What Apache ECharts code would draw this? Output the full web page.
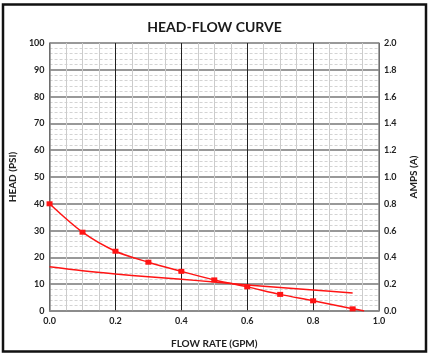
<!DOCTYPE html>
<html>
<head>
<meta charset="utf-8">
<script src="https://cdn.jsdelivr.net/npm/echarts@6/dist/echarts.min.js"></script>
<style>
html, body { margin: 0; padding: 0; background: #fff; }
#container { width: 429px; height: 354px; }
</style>
</head>
<body>
<div id="container"></div>
<script>
// flow rate (GPM) vs head (PSI)
var flow = [0, 0.1, 0.2, 0.3, 0.4, 0.5, 0.6, 0.7, 0.8, 0.92];
var head = [40, 29.4, 22.3, 18.2, 14.8, 11.6, 9.0, 6.2, 3.8, 0.8];
// end of the head curve (no marker)
var headEnd = [0.955, 0];
// flow rate vs amps (A)
var ampFlow = [0, 0.1, 0.2, 0.3, 0.4, 0.5, 0.6, 0.7, 0.8, 0.92];
var amps = [0.33, 0.30, 0.276, 0.256, 0.237, 0.216, 0.194, 0.175, 0.157, 0.135];

var dom = document.getElementById("container");
var myChart = echarts.init(dom);

var headData = [];
for (var i = 0; i < flow.length; i++) {
    headData.push([flow[i], head[i]]);
}
headData.push({ value: headEnd, symbol: 'none' });

var ampData = [];
for (i = 0; i < ampFlow.length; i++) {
    ampData.push([ampFlow[i], amps[i]]);
}

var labelStyle = { color: '#222', fontFamily: 'Lato', fontWeight: 'bold', fontSize: 9 };
var nameStyle = { color: '#222', fontFamily: 'Lato', fontWeight: 'bold', fontSize: 10 };

var option = {
    animation: false,
    title: {
        text: 'HEAD-FLOW CURVE',
        left: 'center',
        top: 15,
        textStyle: { color: '#1a1a1a', fontFamily: 'Lato', fontWeight: 'bold', fontSize: 14 }
    },
    graphic: [{
        type: 'rect',
        shape: { x: 3, y: 4.5, width: 423, height: 347 },
        style: { fill: 'none', stroke: '#111', lineWidth: 2.5 },
        silent: true
    }],
    grid: { left: 48, right: 50, top: 43, bottom: 41 },
    xAxis: {
        type: 'value',
        min: 0,
        max: 1,
        interval: 0.2,
        name: 'FLOW RATE (GPM)',
        nameLocation: 'middle',
        nameGap: 28,
        nameTextStyle: nameStyle,
        axisLine: { show: true, onZero: false, lineStyle: { color: '#888', width: 1.5 } },
        axisTick: { show: false },
        axisLabel: Object.assign({ margin: 6, formatter: function (v) { return v.toFixed(1); } }, labelStyle),
        splitLine: { show: true, lineStyle: { color: '#222', width: 1 } },
        minorTick: { show: false, splitNumber: 4 },
        minorSplitLine: { show: true, lineStyle: { color: '#cccccc', width: 1 } }
    },
    yAxis: [{
        type: 'value',
        min: 0,
        max: 100,
        interval: 10,
        name: 'HEAD (PSI)',
        nameLocation: 'middle',
        nameRotate: 90,
        nameGap: 29,
        nameTextStyle: nameStyle,
        axisLine: { show: true, lineStyle: { color: '#888', width: 1.5 } },
        axisTick: { show: false },
        axisLabel: Object.assign({ margin: 5 }, labelStyle),
        splitLine: { show: true, lineStyle: { color: '#777', width: 1.5 } },
        minorTick: { show: false, splitNumber: 5 },
        minorSplitLine: { show: true, lineStyle: { color: '#d4d4d4', width: 1, type: [3, 2] } }
    }, {
        type: 'value',
        min: 0,
        max: 2,
        interval: 0.2,
        name: 'AMPS (A)',
        nameLocation: 'middle',
        nameRotate: 90,
        nameGap: 30,
        nameTextStyle: nameStyle,
        position: 'right',
        axisLine: { show: true, lineStyle: { color: '#888', width: 1.5 } },
        axisTick: { show: false },
        axisLabel: Object.assign({ margin: 5, formatter: function (v) { return v.toFixed(1); } }, labelStyle),
        splitLine: { show: false }
    }],
    series: [{
        name: 'Head',
        type: 'line',
        smooth: 0.3,
        data: headData,
        yAxisIndex: 0,
        symbol: 'rect',
        symbolSize: [6, 5],
        itemStyle: { color: '#ff1414' },
        lineStyle: { color: '#ff1414', width: 1.5 },
        clip: true
    }, {
        name: 'Amps',
        type: 'line',
        smooth: 0.3,
        data: ampData,
        yAxisIndex: 1,
        symbol: 'none',
        lineStyle: { color: '#ff1414', width: 1.5 }
    }]
};

if (option && typeof option === "object") {
    myChart.setOption(option, true);
}
</script>
</body>
</html>
